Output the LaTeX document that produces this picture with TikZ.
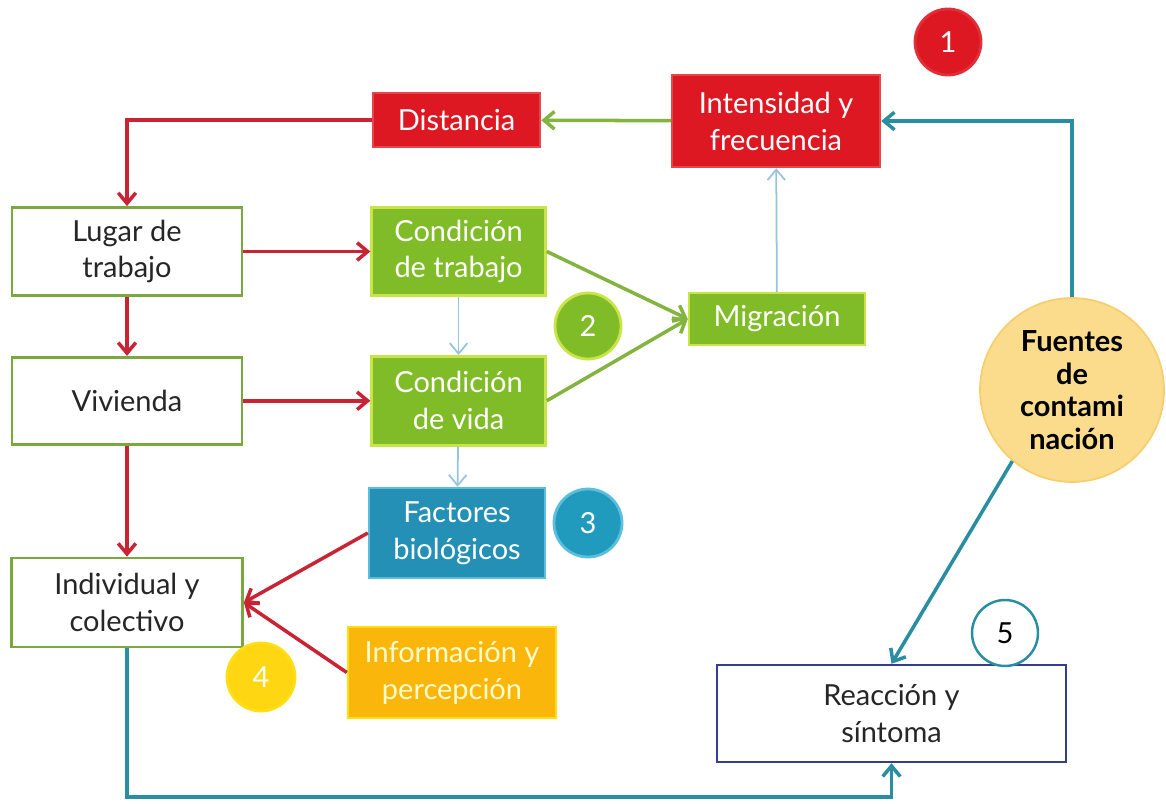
\documentclass[tikz,border=0pt]{standalone}
\usepackage{fontspec}
\setmainfont{Lato}
\usetikzlibrary{arrows.meta, positioning, calc}

\definecolor{boxred}{RGB}{222,24,34}
\definecolor{boxgreen}{RGB}{128,188,40}
\definecolor{rimgreen}{RGB}{200,228,70}
\definecolor{boxblue}{RGB}{36,144,182}
\definecolor{rimblue}{RGB}{90,190,220}
\definecolor{boxorange}{RGB}{250,182,10}
\definecolor{rimorange}{RGB}{255,222,20}
\definecolor{olive}{RGB}{122,168,62}
\definecolor{navy}{RGB}{52,62,140}
\definecolor{linered}{RGB}{200,36,52}
\definecolor{linegreen}{RGB}{132,180,64}
\definecolor{lineblue}{RGB}{150,196,224}
\definecolor{teal}{RGB}{42,142,162}
\definecolor{sand}{RGB}{250,220,140}
\definecolor{sandrim}{RGB}{246,206,110}

\begin{document}
\begin{tikzpicture}[x=0.02cm, y=-0.02cm, >={Straight Barb[length=6pt,width=10pt]},
    font=\fontsize{16.5}{21}\selectfont,
    whitebox/.style={draw=olive, line width=1.6pt, fill=white, text=black!85, align=center,
        minimum width=4.6cm, minimum height=1.76cm},
    colbox/.style={line width=1.4pt, text=white, align=center, minimum height=1.76cm},
    numdot/.style={circle, line width=1.6pt, minimum size=1.32cm, inner sep=0pt, text=white},
    redline/.style={->, draw=linered, line width=2pt},
    greenline/.style={->, draw=linegreen, line width=2pt},
    blueline/.style={->, draw=lineblue, line width=1pt},
    tealline/.style={->, draw=teal, line width=2pt}]

\useasboundingbox (0,0) rectangle (1166,804);

\node[whitebox] (lugar) at (127,251.5) {Lugar de\\trabajo};
\node[whitebox, below=1.18cm of lugar, minimum height=1.74cm] (vivienda) {Vivienda};
\node[whitebox, below=2.22cm of vivienda, minimum width=4.62cm, minimum height=1.78cm] (individual) {Individual y\\colectivo};

\node[colbox, fill=boxgreen, draw=rimgreen, minimum width=3.48cm, right=2.54cm of lugar] (condtrab) {Condición\\de trabajo};
\node[colbox, fill=boxgreen, draw=rimgreen, minimum width=3.48cm, right=2.54cm of vivienda, minimum height=1.78cm] (condvida) {Condición\\de vida};
\node[colbox, fill=boxblue, draw=rimblue, minimum width=3.52cm, minimum height=1.8cm] (factores) at (457,533) {Factores\\biológicos};
\node[colbox, fill=boxorange, draw=rimorange, minimum width=4.16cm, minimum height=1.82cm, text=yellow!20] (info) at (452,672.5) {Información y\\percepción};

\node[colbox, fill=boxred, draw=boxred!80, minimum width=3.34cm, minimum height=1.08cm] (distancia) at (456.5,120) {Distancia};
\node[colbox, fill=boxred, draw=boxred!80, minimum width=4.16cm, minimum height=1.84cm] (intensidad) at (776,121) {Intensidad y\\frecuencia};
\node[colbox, fill=boxgreen, draw=rimgreen, minimum width=3.52cm, minimum height=1.04cm] (migracion) at (777,319) {Migración};

\node[draw=navy, line width=1.4pt, fill=white, align=center, text=black!85,
    minimum width=6.98cm, minimum height=1.94cm] (reaccion) at (891.5,713.5) {Reacción y\\síntoma};

\node[circle, fill=sand, draw=sandrim, line width=1pt, minimum size=3.68cm, align=center,
    font=\fontsize{16.5}{18.5}\selectfont\bfseries] (fuentes) at (1072,390) {Fuentes\\de\\contami\\nación};

\node[numdot, fill=boxred, draw=boxred!90] (n1) at (948,42) {1};
\node[numdot, fill=boxgreen, draw=rimgreen] (n2) at (588,326) {2};
\node[numdot, fill=boxblue!90!cyan, draw=rimblue, minimum size=1.36cm] (n3) at (588,523) {3};
\node[numdot, fill=rimorange!80!boxorange, draw=rimorange, minimum size=1.36cm] (n4) at (261,677) {4};
\node[numdot, fill=white, draw=teal, text=black, line width=1.4pt] (n5) at (1005,633) {5};

\coordinate (floor) at (0,797);

\draw[greenline] (intensidad) -- (distancia);
\draw[redline] (distancia.west) -| (lugar.north);
\draw[redline] (lugar) -- (condtrab);
\draw[redline] (vivienda) -- (condvida);
\draw[redline] (lugar) -- (vivienda);
\draw[redline] (vivienda) -- (individual);
\draw[redline] (factores.west) -- (individual.east);
\draw[redline] (info.west) -- (individual.east);

\draw[greenline] (condtrab.east) -- (migracion.west);
\draw[greenline] (condvida.east) -- (migracion.west);

\draw[blueline] (condtrab) -- (condvida);
\draw[blueline] (condvida) -- (factores);
\draw[blueline] (migracion) -- (intensidad);

\draw[tealline] (fuentes.north) |- (intensidad.east);
\draw[tealline] (fuentes.230) -- (reaccion.north);
\draw[tealline] (individual.south) -- (individual.south |- floor) -| (reaccion.south);

\end{tikzpicture}
\end{document}
